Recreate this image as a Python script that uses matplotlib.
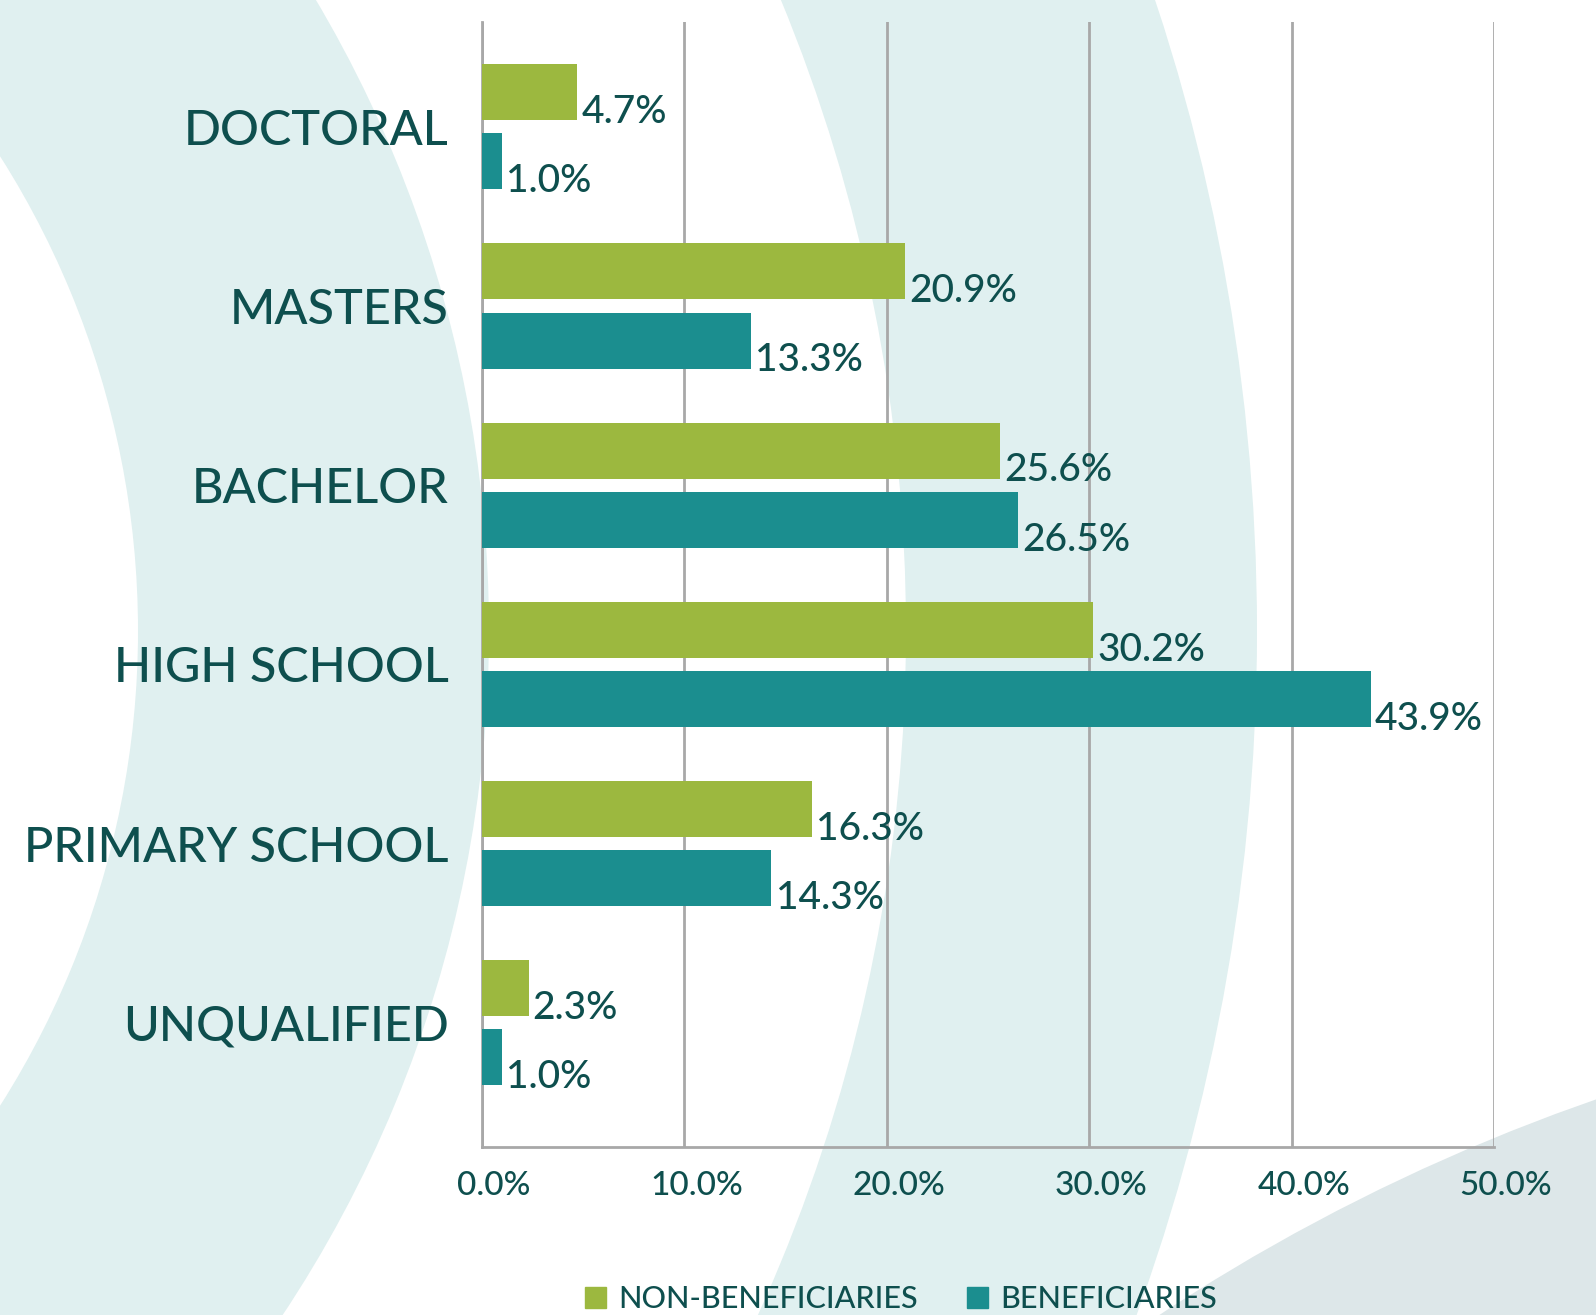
import numpy as np
import matplotlib
matplotlib.use("Agg")
import matplotlib.pyplot as plt
from matplotlib.patches import Wedge, Circle, Patch
from matplotlib.transforms import ScaledTranslation

# data
categories = ["DOCTORAL", "MASTERS", "BACHELOR", "HIGH SCHOOL", "PRIMARY SCHOOL", "UNQUALIFIED"]
non_beneficiaries = [4.7, 20.9, 25.6, 30.2, 16.3, 2.3]
beneficiaries = [1.0, 13.3, 26.5, 43.9, 14.3, 1.0]
x_ticks = [0, 10, 20, 30, 40, 50]
x_tick_labels = ["0.0%", "10.0%", "20.0%", "30.0%", "40.0%", "50.0%"]
series_names = ["NON-BENEFICIARIES", "BENEFICIARIES"]

GREEN = "#9cb83f"
TEAL = "#1b8e8f"
TEXT = "#0e4f4e"
BAND = "#e0f0f0"
GRAY_SHAPE = "#dde7e9"
GRID = "#a8a8a8"

plt.rcParams["font.family"] = ["Lato", "DejaVu Sans"]
plt.rcParams["font.weight"] = "medium"

W, H = 1596, 1315
fig = plt.figure(figsize=(W / 100, H / 100), dpi=100)
fig.patch.set_facecolor("white")

# decorative background (pixel coords)
bg = fig.add_axes([0, 0, 1, 1], zorder=0)
bg.set_xlim(0, W)
bg.set_ylim(H, 0)
bg.axis("off")
center = (-748, 631)
for r_out, r_in in [(1237, 886), (2005, 1654)]:
    bg.add_patch(Wedge(center, r_out, 0, 360, width=r_out - r_in, color=BAND, lw=0))
bg.add_patch(Circle((2239, 2952), 1961, color=GRAY_SHAPE, lw=0))

# main chart
ax = fig.add_axes([482 / W, 1 - 1147 / H, (1494 - 482) / W, (1147 - 22) / H], zorder=1)
ax.patch.set_alpha(0)

y = np.arange(len(categories))
h = 0.3125
off = 0.193
ax.barh(y - off, non_beneficiaries, height=h, color=GREEN, label=series_names[0], zorder=3)
ax.barh(y + off, beneficiaries, height=h, color=TEAL, label=series_names[1], zorder=3)

for vals, shift in [(non_beneficiaries, -off), (beneficiaries, off)]:
    for yi, v in zip(y, vals):
        ax.annotate(f"{v:.1f}%", xy=(v, yi + shift + h / 2), xytext=(3, -2),
                    textcoords="offset points", ha="left", va="baseline",
                    fontsize=28, color=TEXT, zorder=4)

ax.set_xlim(0, 50)
ax.set_ylim(5.693, -0.585)
ax.set_xticks(x_ticks)
ax.set_xticklabels(x_tick_labels, fontsize=24, color=TEXT)
ax.set_yticks(y)
ax.set_yticklabels(categories, fontsize=35, color=TEXT)
ax.tick_params(axis="both", length=0)
ax.tick_params(axis="y", pad=24)
ax.tick_params(axis="x", pad=17)
for lab in ax.get_xticklabels():
    lab.set_transform(lab.get_transform() + ScaledTranslation(12 / 100, 0, fig.dpi_scale_trans))

ax.set_axisbelow(True)
ax.xaxis.grid(True, color=GRID, lw=2)
for s in ["top", "right"]:
    ax.spines[s].set_visible(False)
for s in ["left", "bottom"]:
    ax.spines[s].set_color(GRID)
    ax.spines[s].set_linewidth(2)

handles = [Patch(color=GREEN, label=series_names[0]), Patch(color=TEAL, label=series_names[1])]
fig.legend(handles=handles, loc="center", bbox_to_anchor=(901 / W, 1 - 1299 / H), ncol=2,
           frameon=False, fontsize=22, handlelength=0.7, handleheight=0.7,
           handletextpad=0.4, columnspacing=1.6, labelcolor=TEXT)

fig.savefig("out.png", dpi=100)
